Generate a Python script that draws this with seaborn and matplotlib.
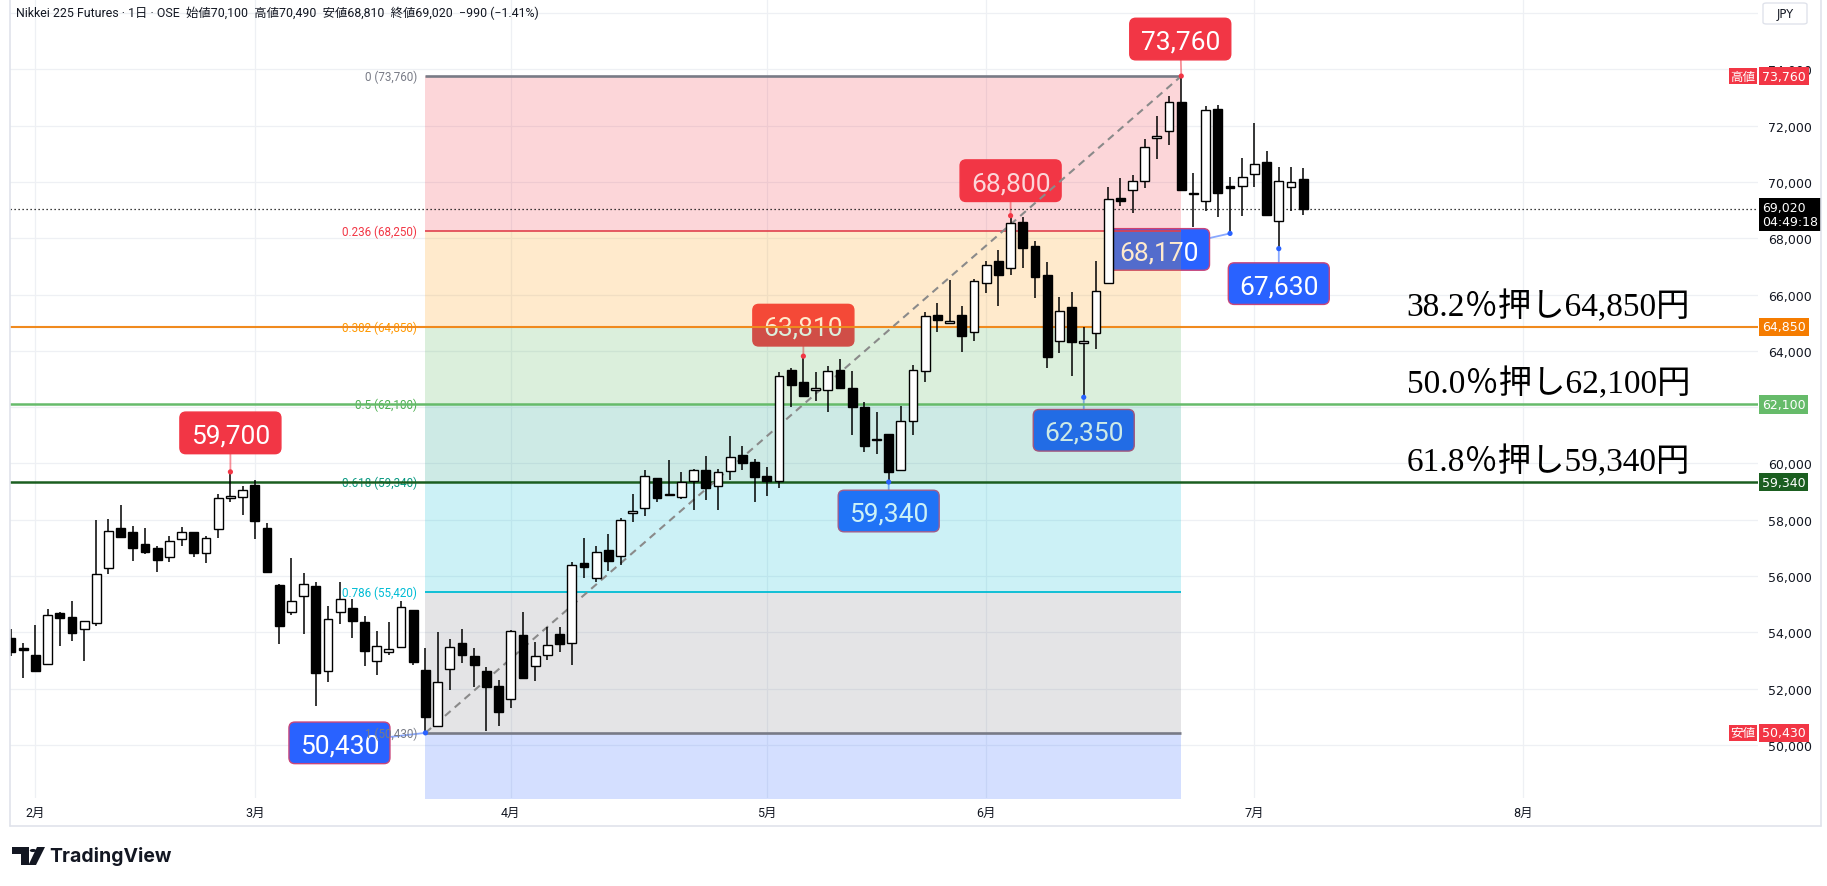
import numpy as np
import pandas as pd
import matplotlib
matplotlib.use("Agg")
import matplotlib.pyplot as plt
import matplotlib.transforms as mtransforms
from matplotlib.patches import FancyBboxPatch, Polygon, Circle
from matplotlib.lines import Line2D
import seaborn as sns

# ---------------- data ----------------
opens = [53790, 53440, 53180, 52860, 54700, 54530, 54110, 54320, 56270, 57700,
         57550, 57130, 56980, 56660, 57300, 57550, 56810, 57670, 58760, 58800,
         59230, 57700, 55680, 54710, 55280, 55650, 52620, 54710, 54870, 54380,
         52970, 53290, 53490, 54790, 52660, 50670, 52690, 53620, 53150, 52640,
         52080, 51630, 53910, 52790, 53200, 53950, 53620, 56450, 55930, 56930,
         56700, 58230, 58400, 59470, 58880, 58800, 59380, 59780, 59190, 59740,
         60310, 60060, 59540, 59360, 63310, 62880, 62620, 62610, 63320, 62680,
         61990, 60860, 61050, 59780, 61500, 63300, 65270, 65000, 65270, 64680,
         66400, 67180, 66930, 68560, 67710, 66690, 64360, 65550, 64290, 64620,
         66410, 69430, 69730, 70040, 71550, 71800, 72830, 69560, 69310, 72590,
         69870, 69840, 70280, 70700, 68600, 69810, 70100]
highs = [54120, 53620, 54260, 54820, 54720, 55100, 54400, 58000, 58030, 58520,
         57770, 57710, 57080, 57410, 57730, 57560, 57410, 58910, 59700, 59210,
         59410, 57880, 55700, 56640, 56100, 55780, 54950, 55790, 55190, 54590,
         54050, 54380, 55100, 54800, 53430, 54010, 53760, 54120, 53430, 52760,
         52320, 54100, 54710, 53650, 54180, 54180, 56510, 57340, 57080, 57490,
         58050, 58910, 59780, 59500, 60120, 59680, 59800, 60250, 59800, 60960,
         60630, 60160, 59860, 63260, 63380, 63810, 63240, 63450, 63700, 63270,
         62170, 61820, 61050, 62050, 63500, 65390, 65690, 66520, 65580, 66550,
         67200, 67590, 68800, 68740, 67910, 67140, 65900, 66080, 64840, 67180,
         69810, 70140, 70250, 71520, 72330, 73060, 73760, 70320, 72680, 72730,
         70160, 70840, 72090, 71090, 70520, 70520, 70490]
lows = [53150, 52390, 52600, 52850, 53530, 53700, 52990, 54240, 56080, 57360,
        56550, 56790, 56160, 56490, 57080, 56690, 56480, 57350, 58640, 58180,
        57320, 56100, 53600, 54630, 53940, 51400, 52250, 54300, 53800, 52820,
        52500, 53200, 53440, 52850, 50430, 50660, 51960, 52910, 52070, 50510,
        50660, 51300, 52340, 52260, 53030, 53290, 52850, 55920, 55780, 56170,
        56390, 57930, 58150, 58620, 58850, 58740, 58360, 58710, 58360, 59420,
        59780, 58640, 58860, 59120, 62020, 62370, 62210, 61820, 62650, 61020,
        60420, 60340, 59340, 59780, 61020, 62880, 64660, 64990, 63950, 64340,
        66050, 65600, 66690, 66940, 65880, 63390, 63920, 63120, 62350, 64070,
        66370, 69160, 68880, 69780, 70810, 71320, 69700, 68410, 68960, 68770,
        68170, 68800, 69830, 68830, 67630, 68980, 68810]
closes = [53290, 53360, 52620, 54600, 54500, 53960, 54390, 56060, 57590, 57400,
          56980, 56870, 56580, 57230, 57550, 56830, 57350, 58760, 58830, 59070,
          57970, 56130, 54240, 55130, 55710, 52560, 54460, 55170, 54420, 53350,
          53500, 53400, 54890, 52960, 51010, 52230, 53470, 53210, 52850, 52050,
          51160, 54060, 52380, 53170, 53550, 53580, 56400, 56310, 56840, 56550,
          58000, 58320, 59570, 58780, 58920, 59330, 59780, 59120, 59710, 60220,
          60000, 59510, 59390, 63120, 62800, 62380, 62660, 63300, 62680, 62020,
          60630, 60830, 59680, 61520, 63330, 65250, 65110, 65030, 64540, 66470,
          67060, 66710, 68540, 67640, 66630, 63790, 65400, 64330, 64320, 66110,
          69390, 69330, 70020, 71230, 71630, 72830, 69730, 69580, 72550, 69590,
          69770, 70160, 70640, 68840, 70020, 69990, 69020]

month_labels = ["2月", "3月", "4月", "5月", "6月", "7月", "8月"]
month_index = [2, 20, 41, 62, 80, 102, 124]

fib_start, fib_end = 34, 96
fib_ratios = ["0", "0.236", "0.382", "0.5", "0.618", "0.786", "1"]
fib_values = [73760, 68250, 64850, 62100, 59340, 55420, 50430]

note_index = [96, 82, 65, 18, 72, 88, 100, 104, 34]
note_values = [73760, 68800, 63810, 59700, 59340, 62350, 68170, 67630, 50430]
note_kind = ["high", "high", "high", "high", "low", "low", "low", "low", "low"]

retr_pct = ["38.2", "50.0", "61.8"]
retr_values = [64850, 62100, 59340]

grid_values = [48000, 50000, 52000, 54000, 56000, 58000, 60000, 62000,
               64000, 66000, 68000, 70000, 72000, 74000, 76000]
y_tick_values = [50000, 52000, 54000, 56000, 58000, 60000,
                 64000, 66000, 68000, 70000, 72000, 74000]
last_price = 69020
countdown = "04:49:18"
change_abs = "−990"
change_pct = "−1.41%"

# ---------------- style ----------------
sns.set_theme(style="white")
plt.rcParams["font.family"] = ["DejaVu Sans", "Noto Sans CJK JP"]
TXT = "#131722"
RED = "#F23645"
BLUE = "#2962FF"
GRID = "#EEF0F4"

W, H = 1827, 887
fig = plt.figure(figsize=(W / 100, H / 100), dpi=100)
fig.patch.set_facecolor("white")
ax = fig.add_axes([10 / W, (H - 799) / H, 1748 / W, 799 / H])
ax.set_facecolor("white")
ax.set_xlim(-0.08, 143.31)
ax.set_ylim(48116, 76497)
for s in ax.spines.values():
    s.set_visible(False)
ax.grid(False)

# grid
for v in grid_values:
    ax.axhline(v, color=GRID, lw=0.9, zorder=0.2)
for m in month_index:
    ax.axvline(m, color=GRID, lw=0.9, zorder=0.2)

# axes ticks
ax.set_xticks(month_index, month_labels)
ax.tick_params(axis="x", length=0, pad=5.5, labelsize=9, labelcolor=TXT)
for t in ax.get_xticklabels():
    t.set_fontfamily(["Roboto", "Noto Sans CJK JP"])
ax.yaxis.tick_right()
ax.set_yticks(y_tick_values, [f"{v:,}" for v in y_tick_values])
ax.tick_params(axis="y", length=0, pad=7.3, labelsize=9, labelcolor=TXT)

# ---------------- fib retracement ----------------
fill_cols = ["#F23645", "#FF9800", "#4CAF50", "#089981", "#00BCD4", "#787B86"]
label_cols = ["#787B86", "#F23645", "#FF9800", "#4CAF50", "#089981", "#00BCD4", "#787B86"]
for k in range(len(fib_values) - 1):
    ax.fill_between([fib_start, fib_end], fib_values[k + 1], fib_values[k],
                    color=fill_cols[k], alpha=0.2, lw=0, zorder=3)
ext_1618 = fib_values[0] - 1.618 * (fib_values[0] - fib_values[-1])
ax.fill_between([fib_start, fib_end], ext_1618, fib_values[-1],
                color=BLUE, alpha=0.2, lw=0, zorder=3)

seg_styles = {0: ("#787B86", 1.9), 1: ("#E0404D", 1.2), 5: ("#00BCD4", 1.3), 6: ("#787B86", 1.9)}
for k, (c, lw) in seg_styles.items():
    ax.hlines(fib_values[k], fib_start, fib_end, color=c, lw=lw, zorder=3.6)

full_lines = {2: ("#F08A1E", 1.5), 3: ("#66BB6A", 1.8), 4: ("#1B5E20", 1.8)}
for k, (c, lw) in full_lines.items():
    ax.axhline(fib_values[k], color=c, lw=lw, zorder=3.6)

for r, v, c in zip(fib_ratios, fib_values, label_cols):
    ax.annotate(f"{r} ({v:,})", xy=(fib_start, v), xytext=(-8.5, 0),
                textcoords="offset pixels", ha="right", va="center",
                color=c, fontsize=8.4, family="Roboto", zorder=3.5,
                annotation_clip=False)

# trend line
ax.plot([fib_start, fib_end], [fib_values[-1], fib_values[0]], color="#8A8A8A",
        lw=1.5, dashes=(3.6, 2.6), zorder=4.5)

# current price dotted line
ax.axhline(last_price, color="black", lw=0.9, linestyle=(0, (1, 2.2)), zorder=4.6)

# ---------------- candles ----------------
df = pd.DataFrame({"i": np.arange(len(opens)), "o": opens, "h": highs,
                   "l": lows, "c": closes})
df["bottom"] = df[["o", "c"]].min(axis=1)
df["height"] = (df["c"] - df["o"]).abs().clip(lower=45)
up = df["c"] >= df["o"]
ax.vlines(df["i"], df["l"], df["h"], color="black", lw=1.1, zorder=5)
ax.bar(df.loc[up, "i"], df.loc[up, "height"], bottom=df.loc[up, "bottom"],
       width=0.72, color="white", edgecolor="black", lw=1.0, zorder=6)
ax.bar(df.loc[~up, "i"], df.loc[~up, "height"], bottom=df.loc[~up, "bottom"],
       width=0.72, color="black", edgecolor="black", lw=1.0, zorder=6)

# ---------------- price notes ----------------
offsets = {96: (-1, 37), 82: (0, 35), 65: (0, 31), 18: (0, 39), 72: (0, -29),
           88: (0, -33), 100: (-71, -16), 104: (0, -35), 34: (-86, -10)}
ident = mtransforms.IdentityTransform()
for i, v, kind in zip(note_index, note_values, note_kind):
    col = RED if kind == "high" else BLUE
    dx, dy = offsets[i]
    ax.annotate("", xy=(i, v), xytext=(dx, dy), textcoords="offset pixels",
                arrowprops=dict(arrowstyle="-", color=col, lw=1.3, alpha=0.55,
                                shrinkA=0, shrinkB=0),
                zorder=1.8, annotation_clip=False)
    cx, cy = ax.transData.transform((i, v))
    cx, cy = cx + dx, cy + dy
    bw, bh = 101, 41.6
    box = FancyBboxPatch((cx - bw / 2, cy - bh / 2), bw, bh,
                         boxstyle="round,pad=0,rounding_size=6",
                         transform=ident, fc=col,
                         ec=("#C8457A" if kind == "low" else col), lw=1.0,
                         zorder=1.9, clip_on=False)
    ax.add_artist(box)
    box.set_clip_on(False)
    ax.annotate(f"{v:,}", xy=(i, v), xytext=(dx, dy - 9.6),
                textcoords="offset pixels", ha="center", va="baseline",
                color="white", fontsize=19, family="Roboto", zorder=2.0,
                annotation_clip=False)

sns.scatterplot(x=note_index, y=note_values, hue=note_kind,
                palette={"high": RED, "low": BLUE}, s=14, edgecolor="none",
                legend=False, ax=ax, zorder=7)

# ---------------- right-axis tags ----------------
tags = [(fib_values[0], RED, "高値"), (fib_values[-1], RED, "安値"),
        (fib_values[2], "#F57C00", None), (fib_values[3], "#66BB6A", None),
        (fib_values[4], "#1B5E20", None)]
for v, c, side in tags:
    ax.annotate(f"{v:,}", xy=(1, v), xycoords=("axes fraction", "data"),
                xytext=(4, 0), textcoords="offset pixels", ha="left", va="center",
                color="white", fontsize=9, zorder=20, annotation_clip=False,
                bbox=dict(boxstyle="square,pad=0.22", fc=c, ec="none"))
    if side:
        ax.annotate(side, xy=(1, v), xycoords=("axes fraction", "data"),
                    xytext=(-3, 0), textcoords="offset pixels", ha="right",
                    va="center", color="white", fontsize=9,
                    family="Noto Sans CJK JP", zorder=20, annotation_clip=False,
                    bbox=dict(boxstyle="square,pad=0.12", fc=c, ec="none"))
ax.annotate(f"{last_price:,}\n{countdown}", xy=(1, last_price),
            xycoords=("axes fraction", "data"), xytext=(4, 8),
            textcoords="offset pixels", ha="left", va="top", color="white",
            fontsize=9, linespacing=1.05, zorder=20, annotation_clip=False,
            bbox=dict(boxstyle="square,pad=0.25", fc="black", ec="none"))

# ---------------- retracement captions ----------------
for p, v in zip(retr_pct, retr_values):
    ax.annotate(f"{p}％押し{v:,}円", xy=(0.9611, v),
                xycoords=("axes fraction", "data"), xytext=(0, 21),
                textcoords="offset pixels", ha="right", va="center",
                color="black", fontsize=24,
                family=["Liberation Serif", "Noto Sans CJK JP"], zorder=15)

# ---------------- header / frame / logo ----------------
title = (f"Nikkei 225 Futures · 1日 · OSE  始値{opens[-1]:,}  高値{highs[-1]:,}  "
         f"安値{lows[-1]:,}  終値{closes[-1]:,}  {change_abs} ({change_pct})")
fig.text(16 / W, 1 - 13 / H, title, ha="left", va="center", fontsize=8.9,
         color=TXT, family=["Roboto", "Noto Sans CJK JP", "DejaVu Sans"])


def P(x, y):
    return (x / W, 1 - y / H)


jpy = FancyBboxPatch(P(1763, 25), 44 / W, 21 / H,
                     boxstyle="round,pad=0,rounding_size=0.002",
                     transform=fig.transFigure, fc="white", ec="#E0E3EB", lw=1)
fig.patches.append(jpy)
fig.text(*P(1785, 14.5), "JPY", ha="center", va="center", fontsize=8.3, color=TXT)

frame_c = "#E0E3EB"
fig.add_artist(Line2D([10 / W, 10 / W], [1, 1 - 827 / H], color=frame_c, lw=1.2,
                      transform=fig.transFigure))
fig.add_artist(Line2D([10 / W, 1821 / W], [1 - 827 / H] * 2, color=frame_c, lw=1.2,
                      transform=fig.transFigure))
fig.add_artist(Line2D([1821 / W, 1821 / W], [1, 1 - 827 / H], color=frame_c, lw=1.2,
                      transform=fig.transFigure))

logo_c = "#131722"
fig.patches.append(Polygon([P(12, 848), P(29, 848), P(29, 866), P(21, 866),
                            P(21, 855), P(12, 855)], closed=True,
                           transform=fig.transFigure, fc=logo_c, ec="none"))
fig.patches.append(Polygon([P(37, 848), P(45, 848), P(36, 866), P(28.5, 866)],
                           closed=True, transform=fig.transFigure, fc=logo_c, ec="none"))
fig.patches.append(Circle(P(33, 851.5), 3.2 / W, transform=fig.transFigure,
                          fc=logo_c, ec="none"))
fig.text(*P(49, 857), "TradingView", ha="left", va="center", fontsize=14,
         fontweight="bold", color=logo_c, family=["Inter", "Roboto"])

fig.savefig("out.png", dpi=100, facecolor="white")
